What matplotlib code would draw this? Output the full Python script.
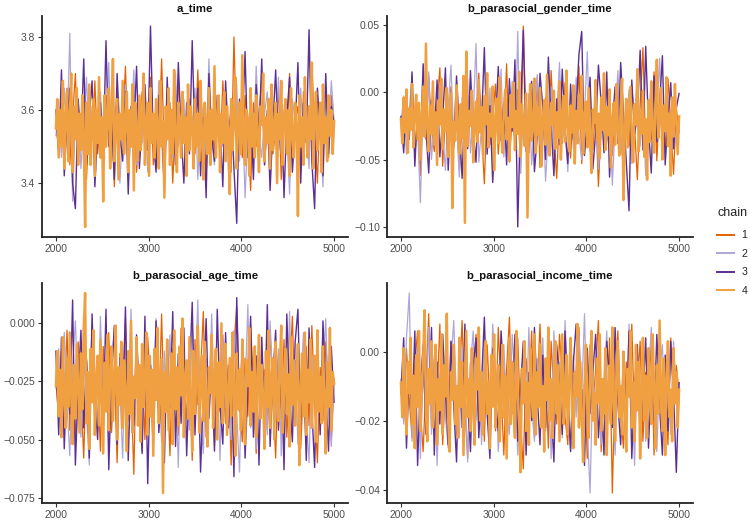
import matplotlib
matplotlib.use("Agg")
import matplotlib.pyplot as plt
from matplotlib.lines import Line2D
import numpy as np

plt.rcParams['font.family'] = ['Liberation Sans', 'DejaVu Sans']

first_iter, last_iter = 2000, 5000
chains = ["1", "2", "3", "4"]
chain_colors = ["#E66101", "#AFA6D8", "#5B2F94", "#F0A040"]
params = ["a_time", "b_parasocial_gender_time", "b_parasocial_age_time", "b_parasocial_income_time"]

a_time_1 = [3.56,3.49,3.62,3.51,3.66,3.45,3.58,3.70,3.47,3.54,3.63,3.41,3.59,3.52,3.68,3.48,3.57,3.44,3.64,3.53,
            3.60,3.39,3.66,3.50,3.55,3.72,3.46,3.58,3.62,3.43,3.57,3.65,3.49,3.53,3.69,3.45,3.60,3.51,3.74,3.47,
            3.56,3.62,3.40,3.58,3.67,3.50,3.54,3.44,3.63,3.57,3.48,3.71,3.52,3.59,3.42,3.65,3.55,3.49,3.61,3.46,
            3.68,3.53,3.57,3.43,3.80,3.51,3.60,3.47,3.64,3.55,3.38,3.62,3.50,3.58,3.69,3.45,3.56,3.63,3.48,3.54,
            3.66,3.41,3.59,3.52,3.70,3.46,3.57,3.61,3.44,3.65,3.53,3.49,3.72,3.55,3.40,3.62,3.51,3.58,3.47,3.64,3.56]
a_time_2 = [3.53,3.60,3.47,3.66,3.52,3.81,3.35,3.58,3.63,3.44,3.56,3.69,3.49,3.61,3.42,3.57,3.65,3.50,3.54,3.73,
            3.46,3.59,3.62,3.40,3.55,3.67,3.48,3.53,3.71,3.45,3.58,3.51,3.64,3.43,3.60,3.56,3.49,3.68,3.52,3.38,
            3.62,3.55,3.47,3.70,3.50,3.57,3.63,3.44,3.59,3.53,3.66,3.41,3.56,3.61,3.48,3.74,3.52,3.45,3.60,3.57,
            3.50,3.64,3.43,3.58,3.54,3.67,3.46,3.61,3.36,3.55,3.62,3.49,3.72,3.53,3.47,3.59,3.65,3.42,3.56,3.51,
            3.69,3.48,3.60,3.54,3.37,3.63,3.57,3.45,3.66,3.52,3.58,3.44,3.71,3.50,3.61,3.55,3.39,3.64,3.53,3.68,3.57]
a_time_3 = [3.60,3.48,3.71,3.42,3.57,3.66,3.40,3.33,3.63,3.51,3.74,3.45,3.59,3.68,3.39,3.55,3.62,3.47,3.79,3.50,
            3.58,3.41,3.70,3.53,3.46,3.65,3.37,3.61,3.54,3.72,3.44,3.57,3.67,3.49,3.83,3.52,3.43,3.64,3.56,3.38,
            3.69,3.50,3.60,3.45,3.73,3.54,3.40,3.62,3.48,3.79,3.51,3.66,3.42,3.58,3.36,3.70,3.53,3.46,3.64,3.57,
            3.39,3.68,3.52,3.61,3.44,3.29,3.63,3.55,3.76,3.47,3.59,3.41,3.67,3.53,3.74,3.45,3.60,3.38,3.56,3.71,
            3.49,3.64,3.36,3.58,3.69,3.43,3.55,3.73,3.40,3.62,3.51,3.82,3.46,3.33,3.66,3.54,3.42,3.70,3.48,3.61,3.56]
a_time_4 = [3.55,3.63,3.47,3.60,3.50,3.68,3.44,3.58,3.65,3.46,3.57,3.70,3.43,3.61,3.52,3.66,3.45,3.59,3.49,3.64,
            3.53,3.28,3.62,3.48,3.67,3.45,3.56,3.63,3.42,3.60,3.51,3.69,3.47,3.58,3.35,3.64,3.50,3.57,3.66,3.44,
            3.61,3.74,3.46,3.55,3.63,3.41,3.59,3.52,3.68,3.48,3.57,3.65,3.43,3.60,3.50,3.67,3.38,3.62,3.53,3.46,
            3.64,3.49,3.58,3.70,3.45,3.56,3.62,3.42,3.66,3.51,3.59,3.47,3.63,3.54,3.44,3.68,3.50,3.57,3.36,3.61,
            3.52,3.66,3.45,3.60,3.48,3.71,3.53,3.43,3.62,3.57,3.47,3.65,3.51,3.58,3.42,3.67,3.49,3.61,3.55,3.44,
            3.63,3.50,3.59,3.46,3.68,3.53,3.41,3.62,3.56,3.48,3.66,3.45,3.60,3.52,3.72,3.47,3.57,3.64,3.43,3.59,
            3.51,3.65,3.46,3.61,3.54,3.37,3.63,3.49,3.58,3.69,3.44,3.56,3.62,3.48,3.75,3.52,3.45,3.60,3.57,3.42,
            3.66,3.50,3.59,3.47,3.64,3.53,3.43,3.61,3.56,3.70,3.46,3.58,3.51,3.63,3.44,3.67,3.49,3.55,3.62,3.40,
            3.59,3.52,3.68,3.45,3.57,3.63,3.48,3.60,3.42,3.66,3.53,3.47,3.62,3.56,3.31,3.64,3.50,3.58,3.45,3.69,
            3.54,3.47,3.61,3.52,3.73,3.44,3.59,3.65,3.49,3.56,3.62,3.43,3.67,3.51,3.58,3.46,3.64,3.53,3.60,3.48,
            3.57]

gender_1 = [-0.021,-0.040,-0.005,-0.030,0.008,-0.048,-0.015,-0.062,-0.002,-0.035,0.012,-0.026,-0.044,-0.010,0.018,-0.055,-0.019,-0.033,0.004,-0.041,
            -0.012,-0.058,-0.024,0.010,-0.037,-0.003,-0.050,-0.016,0.014,-0.029,-0.068,-0.008,-0.039,-0.020,0.006,-0.046,-0.013,-0.031,0.021,-0.052,
            -0.018,-0.036,0.002,-0.060,0.049,-0.027,-0.045,-0.009,-0.034,0.011,-0.056,-0.022,-0.004,-0.041,0.016,-0.030,-0.064,-0.014,-0.038,0.007,
            -0.025,-0.049,-0.006,-0.033,0.019,-0.053,-0.017,-0.028,0.003,-0.043,-0.011,-0.070,-0.023,0.013,-0.036,-0.001,-0.047,-0.020,0.009,-0.032,
            -0.057,-0.015,-0.040,0.005,-0.026,-0.065,-0.010,0.033,-0.044,-0.019,-0.035,0.015,-0.051,-0.007,-0.029,-0.042,0.010,-0.024,-0.061,-0.012,-0.030]
gender_2 = [-0.024,-0.003,-0.046,-0.014,0.012,-0.038,-0.027,-0.082,-0.008,-0.033,0.015,-0.050,-0.019,-0.041,0.006,-0.029,-0.058,-0.011,0.020,-0.036,
            -0.022,-0.063,-0.004,-0.031,0.010,-0.045,-0.017,0.036,-0.052,-0.025,-0.009,-0.040,0.003,-0.056,-0.020,-0.034,0.017,-0.048,-0.013,-0.028,
            0.008,-0.043,0.045,-0.060,-0.016,-0.037,-0.001,-0.054,-0.023,0.013,-0.039,-0.010,-0.066,-0.030,0.004,-0.047,-0.018,0.022,-0.035,-0.026,
            -0.059,-0.007,-0.042,0.011,-0.032,-0.050,-0.015,0.030,-0.044,-0.021,-0.005,-0.057,-0.028,0.009,-0.038,-0.012,-0.069,-0.024,0.016,-0.046,
            -0.019,-0.034,0.002,-0.053,-0.027,0.014,-0.040,-0.009,-0.062,-0.022,0.007,-0.036,-0.014,0.025,-0.049,-0.030,-0.003,-0.055,-0.018,-0.040,-0.026]
gender_3 = [-0.018,-0.045,-0.002,-0.035,0.015,-0.055,-0.012,-0.040,0.021,-0.028,-0.060,-0.006,-0.032,0.009,-0.048,-0.020,0.018,-0.058,-0.014,-0.038,
            0.012,-0.026,-0.064,-0.004,-0.042,0.016,-0.030,-0.052,0.005,-0.022,0.033,-0.046,-0.010,-0.067,-0.025,0.019,-0.036,-0.008,-0.054,0.010,
            -0.029,0.024,-0.100,-0.016,0.046,-0.044,-0.021,0.008,-0.059,-0.033,0.014,-0.011,-0.050,0.026,-0.024,-0.062,-0.005,-0.039,0.017,-0.027,
            -0.053,0.006,-0.035,-0.013,0.028,0.045,-0.047,-0.019,0.011,-0.057,-0.030,0.020,-0.008,-0.045,0.015,-0.063,-0.023,0.004,-0.038,0.022,
            -0.015,-0.051,-0.088,0.009,-0.031,-0.018,0.031,-0.043,0.034,-0.026,-0.060,0.012,-0.037,-0.009,0.027,-0.054,-0.020,0.007,-0.042,-0.012,-0.001]
gender_4 = [-0.020,-0.038,-0.004,-0.030,0.002,-0.045,-0.012,-0.028,0.006,-0.041,-0.016,-0.002,-0.035,-0.008,-0.050,-0.019,0.004,-0.033,0.036,-0.026,
            -0.044,-0.010,-0.031,0.008,-0.039,-0.015,-0.054,-0.006,-0.024,0.010,-0.042,-0.013,-0.029,0.003,-0.048,-0.018,-0.001,-0.086,-0.022,-0.036,
            0.005,-0.027,-0.046,-0.009,-0.034,0.012,-0.097,0.030,-0.040,-0.014,-0.025,0.001,-0.052,-0.020,-0.007,-0.037,0.009,-0.030,-0.011,-0.047,
            -0.003,-0.024,0.014,-0.041,-0.016,-0.033,0.004,-0.058,-0.021,-0.005,-0.038,0.011,-0.028,-0.045,-0.012,0.002,-0.035,-0.019,-0.051,-0.002,
            -0.026,0.007,-0.043,-0.014,-0.031,0.015,-0.048,-0.009,-0.023,-0.040,-0.001,-0.093,-0.017,0.006,-0.036,-0.027,0.010,-0.045,-0.011,-0.032,
            0.003,-0.055,-0.020,-0.006,-0.039,0.013,-0.029,-0.047,-0.008,-0.024,0.001,-0.042,-0.015,-0.034,0.008,-0.050,-0.018,-0.003,-0.037,0.016,
            -0.025,-0.044,-0.010,-0.030,0.005,-0.053,-0.014,-0.038,-0.002,-0.027,0.012,-0.046,-0.019,-0.007,-0.041,0.003,-0.033,-0.060,-0.013,-0.023,
            0.009,-0.036,-0.016,-0.049,-0.004,-0.028,0.014,-0.043,-0.011,-0.032,0.002,-0.056,-0.021,-0.008,-0.039,0.006,-0.026,-0.047,-0.012,0.010,
            -0.080,-0.030,-0.005,-0.041,-0.018,0.004,-0.035,-0.052,-0.009,-0.024,0.017,-0.044,-0.015,-0.031,0.001,-0.048,-0.020,-0.065,-0.006,-0.037,
            0.008,-0.027,-0.045,-0.013,0.024,-0.034,-0.019,0.003,-0.050,-0.010,-0.029,0.011,-0.040,-0.016,-0.062,-0.004,-0.033,0.006,-0.022,-0.046,
            -0.018]

age_1 = [-0.025,-0.040,-0.012,-0.033,-0.003,-0.046,-0.019,-0.052,-0.008,-0.030,-0.058,-0.015,-0.037,-0.001,-0.044,-0.022,-0.055,-0.010,-0.034,-0.004,
         -0.047,-0.020,-0.060,-0.013,-0.031,0.002,-0.042,-0.026,-0.065,-0.009,-0.036,-0.017,-0.050,-0.006,-0.028,-0.054,-0.014,-0.039,0.004,-0.045,
         -0.023,-0.057,-0.011,-0.032,-0.048,-0.002,-0.027,-0.041,-0.016,-0.059,-0.007,-0.035,-0.021,0.005,-0.049,-0.029,-0.012,-0.053,-0.024,-0.038,
         -0.005,-0.043,-0.018,-0.061,-0.009,0.007,-0.033,-0.051,-0.015,-0.040,-0.001,-0.027,-0.056,-0.011,-0.036,-0.020,-0.046,-0.003,-0.031,-0.058,
         -0.014,-0.041,-0.007,-0.049,-0.022,0.003,-0.038,-0.016,-0.054,-0.026,-0.010,-0.044,-0.001,-0.034,-0.060,-0.019,-0.042,-0.008,-0.030,-0.050,-0.024]
age_2 = [-0.028,-0.011,-0.043,-0.004,-0.036,-0.057,-0.018,0.001,-0.031,-0.049,-0.013,-0.039,-0.061,-0.007,-0.024,-0.045,0.003,-0.034,-0.016,-0.053,
         -0.021,-0.002,-0.041,-0.029,-0.058,-0.010,-0.035,0.006,-0.047,-0.019,-0.030,-0.055,-0.008,-0.038,-0.014,-0.044,0.002,-0.026,-0.051,-0.012,
         -0.037,-0.005,-0.048,-0.022,-0.062,-0.009,-0.033,-0.017,-0.046,0.000,-0.027,0.010,-0.040,-0.056,-0.015,-0.032,0.004,-0.043,-0.020,-0.059,
         -0.006,-0.036,-0.025,-0.050,-0.003,-0.039,-0.064,-0.013,-0.030,0.008,-0.045,-0.018,-0.054,-0.009,-0.035,-0.023,-0.048,0.001,-0.029,-0.042,
         -0.011,-0.057,-0.020,-0.037,0.005,-0.044,-0.016,-0.052,-0.027,-0.004,-0.040,-0.060,-0.014,-0.033,-0.007,-0.046,-0.021,0.002,-0.038,-0.053,-0.026]
age_3 = [-0.012,-0.048,-0.006,-0.054,-0.020,-0.039,0.010,-0.061,-0.028,-0.003,-0.045,-0.016,-0.058,0.004,-0.034,-0.050,-0.009,-0.042,0.006,-0.063,
         -0.024,-0.001,-0.052,-0.015,-0.037,0.007,-0.059,-0.021,-0.044,-0.005,-0.031,-0.056,0.003,-0.069,-0.018,-0.040,0.001,-0.047,-0.026,-0.060,
         -0.008,-0.036,0.005,-0.053,-0.013,-0.043,-0.002,-0.057,-0.022,0.009,-0.048,-0.011,-0.064,-0.030,0.002,-0.041,-0.017,-0.055,0.006,-0.035,
         -0.052,-0.004,-0.045,-0.019,-0.066,0.011,-0.038,-0.010,-0.058,-0.027,0.003,-0.049,-0.014,-0.061,-0.006,-0.040,0.008,-0.053,-0.023,-0.003,
         -0.046,-0.016,-0.063,0.004,-0.032,-0.051,-0.008,0.006,-0.044,-0.020,-0.059,-0.002,-0.037,-0.062,-0.012,-0.048,0.001,-0.029,-0.055,-0.010,-0.034]
age_4 = [-0.027,-0.012,-0.040,-0.020,-0.049,-0.006,-0.033,-0.045,-0.015,-0.036,-0.004,-0.030,-0.052,-0.018,-0.041,-0.009,-0.028,-0.047,-0.013,-0.037,
         -0.002,0.013,-0.043,-0.021,-0.054,-0.011,-0.034,-0.003,-0.048,-0.024,-0.014,-0.044,-0.007,-0.031,-0.056,-0.017,-0.038,-0.005,-0.046,-0.022,
         -0.010,-0.042,-0.026,-0.001,-0.050,-0.019,-0.035,-0.008,-0.045,-0.016,-0.030,-0.055,-0.012,-0.039,0.001,-0.047,-0.023,-0.032,-0.006,-0.044,
         -0.018,-0.051,-0.009,-0.036,-0.025,-0.004,-0.048,-0.014,-0.040,-0.020,-0.057,-0.011,-0.033,-0.002,-0.043,-0.027,-0.015,-0.073,-0.021,-0.038,
         -0.007,-0.046,-0.029,-0.013,-0.052,-0.003,-0.037,-0.019,-0.044,-0.010,-0.031,0.002,-0.049,-0.024,-0.016,-0.041,-0.006,-0.034,-0.055,-0.012,
         -0.039,-0.022,-0.001,-0.047,-0.028,-0.014,-0.042,-0.008,-0.035,-0.053,-0.019,-0.030,-0.005,-0.045,-0.025,-0.011,-0.050,-0.017,-0.036,0.000,
         -0.043,-0.023,-0.009,-0.048,-0.032,-0.015,-0.040,-0.004,-0.029,-0.057,-0.013,-0.037,-0.020,-0.046,-0.007,-0.034,-0.052,-0.016,-0.027,-0.002,
         -0.044,-0.021,-0.038,-0.010,-0.049,-0.026,-0.005,-0.041,-0.018,-0.033,-0.054,-0.012,-0.036,-0.003,-0.045,-0.024,-0.015,-0.050,-0.008,-0.031,
         -0.042,-0.019,-0.001,-0.047,-0.028,-0.011,-0.039,-0.022,-0.053,-0.006,-0.035,-0.016,-0.044,-0.025,-0.009,-0.061,-0.030,-0.013,-0.040,-0.004,
         -0.048,-0.020,-0.034,-0.007,-0.045,-0.027,-0.014,-0.051,-0.003,-0.038,-0.023,-0.043,-0.010,-0.032,-0.056,-0.017,-0.036,-0.002,-0.046,-0.021,
         -0.026]

income_1 = [-0.010,-0.020,0.001,-0.014,-0.025,-0.004,0.006,-0.017,-0.029,-0.008,0.011,-0.022,-0.002,-0.013,0.008,-0.027,-0.011,-0.019,0.003,-0.006,
            -0.024,-0.009,0.009,-0.016,-0.031,-0.003,-0.012,0.005,-0.021,-0.007,-0.026,0.002,-0.015,-0.001,-0.023,0.007,-0.011,-0.030,-0.005,0.010,
            -0.018,-0.008,0.004,-0.020,-0.034,-0.002,-0.013,0.006,-0.025,-0.010,0.008,-0.016,-0.004,-0.028,0.003,-0.012,-0.021,0.005,-0.007,-0.019,
            -0.027,0.001,-0.014,-0.006,0.007,-0.023,-0.009,-0.031,0.002,-0.017,-0.005,0.009,-0.029,-0.012,-0.024,0.004,-0.041,-0.008,0.006,-0.018,
            -0.028,-0.003,-0.013,0.008,-0.022,-0.010,0.003,-0.026,-0.006,-0.016,0.005,-0.030,-0.011,0.001,-0.020,-0.007,-0.027,0.004,-0.015,-0.004,-0.012]
income_2 = [-0.008,-0.021,0.004,0.017,-0.026,-0.012,0.002,-0.031,-0.006,-0.018,0.007,-0.024,-0.001,-0.033,-0.010,0.005,-0.019,-0.028,-0.003,0.009,
            -0.015,-0.025,0.001,-0.011,-0.032,-0.004,0.006,-0.020,-0.009,-0.027,0.003,-0.014,-0.022,0.008,-0.005,-0.029,-0.012,0.002,-0.018,-0.024,
            0.005,-0.007,-0.030,-0.013,0.001,-0.021,0.007,-0.016,-0.026,-0.002,-0.011,0.004,-0.023,-0.008,-0.031,0.006,-0.015,-0.003,-0.025,0.009,
            -0.010,-0.028,-0.001,-0.019,0.005,-0.013,0.011,-0.022,-0.041,-0.006,-0.017,0.003,-0.027,-0.009,0.006,-0.020,-0.012,-0.030,0.001,-0.016,
            -0.004,-0.025,0.008,-0.011,-0.033,-0.002,-0.019,0.004,-0.026,-0.008,0.007,-0.014,-0.029,-0.005,0.002,-0.021,-0.010,-0.024,0.003,-0.013,-0.009]
income_3 = [-0.012,0.004,-0.028,-0.005,-0.019,0.006,-0.033,-0.010,0.002,-0.024,-0.015,0.007,-0.030,-0.003,-0.021,0.005,-0.011,-0.027,0.003,-0.016,
            -0.032,-0.001,-0.022,0.008,-0.013,-0.029,-0.004,0.004,-0.025,-0.009,0.010,-0.018,-0.031,0.001,-0.014,-0.023,0.006,-0.007,-0.028,-0.002,
            -0.017,0.005,-0.026,-0.011,0.003,-0.030,-0.006,-0.020,0.007,-0.013,-0.027,-0.001,-0.022,0.004,-0.016,-0.032,0.002,-0.009,-0.024,0.006,
            -0.014,-0.029,-0.003,0.008,-0.021,-0.011,-0.033,0.001,-0.018,-0.006,0.005,-0.025,-0.012,-0.030,0.003,-0.008,-0.022,0.007,-0.015,-0.027,
            -0.002,-0.019,0.006,-0.031,-0.010,0.002,-0.024,-0.013,0.004,-0.028,-0.007,-0.020,0.005,-0.016,-0.030,-0.001,-0.023,0.003,-0.012,-0.035,-0.009]
income_4 = [-0.009,-0.019,0.001,-0.014,-0.024,-0.003,-0.012,0.004,-0.021,-0.007,-0.028,-0.001,-0.016,0.006,-0.023,-0.010,-0.002,0.012,-0.018,-0.026,
            -0.005,-0.015,0.003,-0.022,-0.011,0.002,-0.027,-0.008,-0.017,0.005,-0.024,-0.004,-0.013,0.011,-0.020,-0.029,-0.006,-0.014,0.002,-0.021,
            -0.010,-0.025,0.004,-0.016,-0.003,-0.030,-0.012,0.006,-0.019,-0.008,-0.023,0.001,-0.015,-0.027,-0.002,-0.011,0.007,-0.020,-0.006,-0.024,
            -0.013,0.003,-0.018,-0.009,-0.028,-0.001,-0.016,0.005,-0.022,-0.011,-0.004,-0.026,-0.014,0.002,-0.019,-0.007,-0.031,-0.010,0.004,-0.021,
            -0.003,-0.017,-0.025,0.006,-0.012,-0.020,-0.035,-0.005,-0.015,0.003,-0.023,-0.009,-0.027,0.001,-0.013,-0.019,0.005,-0.024,-0.006,-0.016,
            0.002,-0.022,-0.010,-0.029,-0.002,-0.014,0.007,-0.020,-0.008,-0.025,-0.012,0.003,-0.018,-0.004,-0.026,-0.011,0.005,-0.021,-0.015,-0.001,
            -0.024,-0.009,0.004,-0.017,-0.028,-0.006,-0.013,0.008,-0.022,-0.003,-0.019,-0.032,-0.010,0.002,-0.016,-0.025,-0.005,0.006,-0.020,-0.012,
            -0.027,-0.002,-0.015,0.005,-0.023,-0.008,-0.018,0.001,-0.030,-0.011,-0.004,-0.021,0.007,-0.014,-0.026,-0.007,0.003,-0.019,-0.010,-0.024,
            0.000,-0.016,-0.029,-0.005,-0.013,0.006,-0.022,-0.009,-0.026,0.002,-0.017,-0.003,-0.031,-0.012,0.004,-0.020,-0.007,-0.025,0.001,-0.014,
            -0.021,0.005,-0.010,-0.028,-0.004,-0.018,0.009,-0.013,-0.023,-0.002,-0.030,-0.008,0.003,-0.019,-0.011,-0.026,0.001,-0.015,-0.006,-0.022,
            -0.011]

x_ticks = [2000, 3000, 4000, 5000]
y_ticks = {
    "a_time": ([3.4, 3.6, 3.8], ["3.4", "3.6", "3.8"]),
    "b_parasocial_gender_time": ([-0.10, -0.05, 0.00, 0.05], ["\u22120.10", "\u22120.05", "0.00", "0.05"]),
    "b_parasocial_age_time": ([-0.075, -0.050, -0.025, 0.000], ["\u22120.075", "\u22120.050", "\u22120.025", "0.000"]),
    "b_parasocial_income_time": ([-0.04, -0.02, 0.00], ["\u22120.04", "\u22120.02", "0.00"]),
}
series = {
    "a_time": [a_time_1, a_time_2, a_time_3, a_time_4],
    "b_parasocial_gender_time": [gender_1, gender_2, gender_3, gender_4],
    "b_parasocial_age_time": [age_1, age_2, age_3, age_4],
    "b_parasocial_income_time": [income_1, income_2, income_3, income_4],
}
line_widths = [0.9, 0.9, 1.0, 1.8]

W, H = 750, 520
fig = plt.figure(figsize=(W / 100, H / 100), dpi=100)
fig.patch.set_facecolor("white")

# panel boxes in pixels: (left, top, right, bottom)
boxes = [(42, 16, 348, 237), (387, 16, 693, 237), (42, 283, 348, 503), (387, 283, 693, 503)]
tick_color = "#4D4D4D"

for p, (l, t, r, b) in zip(params, boxes):
    ax = fig.add_axes([l / W, 1 - b / H, (r - l) / W, (b - t) / H])
    for vals, col, lw in zip(series[p], chain_colors, line_widths):
        xs = np.linspace(first_iter, last_iter, len(vals))
        ax.plot(xs, vals, color=col, lw=lw, solid_joinstyle="round")
    ax.margins(x=0.05, y=0.05)
    ax.set_xticks(x_ticks)
    ax.set_xticklabels([str(v) for v in x_ticks])
    ticks, labels = y_ticks[p]
    ax.set_yticks(ticks)
    ax.set_yticklabels(labels)
    for s in ["top", "right"]:
        ax.spines[s].set_visible(False)
    for s in ["left", "bottom"]:
        ax.spines[s].set_linewidth(1.3)
        ax.spines[s].set_color("#222222")
    ax.tick_params(axis="both", colors="#333333", labelcolor=tick_color, labelsize=7.4,
                   length=3, width=0.8, pad=2)
    ax.set_title(p, fontsize=8.2, fontweight="bold", pad=3, color="#111111")
    ax.set_facecolor("white")

handles = [Line2D([0], [0], color=c, lw=1.4) for c in chain_colors]
leg = fig.legend(handles, chains, title="chain", loc="upper left",
                 bbox_to_anchor=(713 / W, 1 - 203 / H), frameon=False,
                 fontsize=7.6, title_fontsize=9, handlelength=1.6,
                 labelspacing=0.8, handletextpad=0.7, borderaxespad=0)
leg._legend_box.align = "left"
leg._legend_box.sep = 8
leg.get_title().set_color("#222222")
for txt in leg.get_texts():
    txt.set_color("#222222")

fig.savefig("out.png", dpi=100)
